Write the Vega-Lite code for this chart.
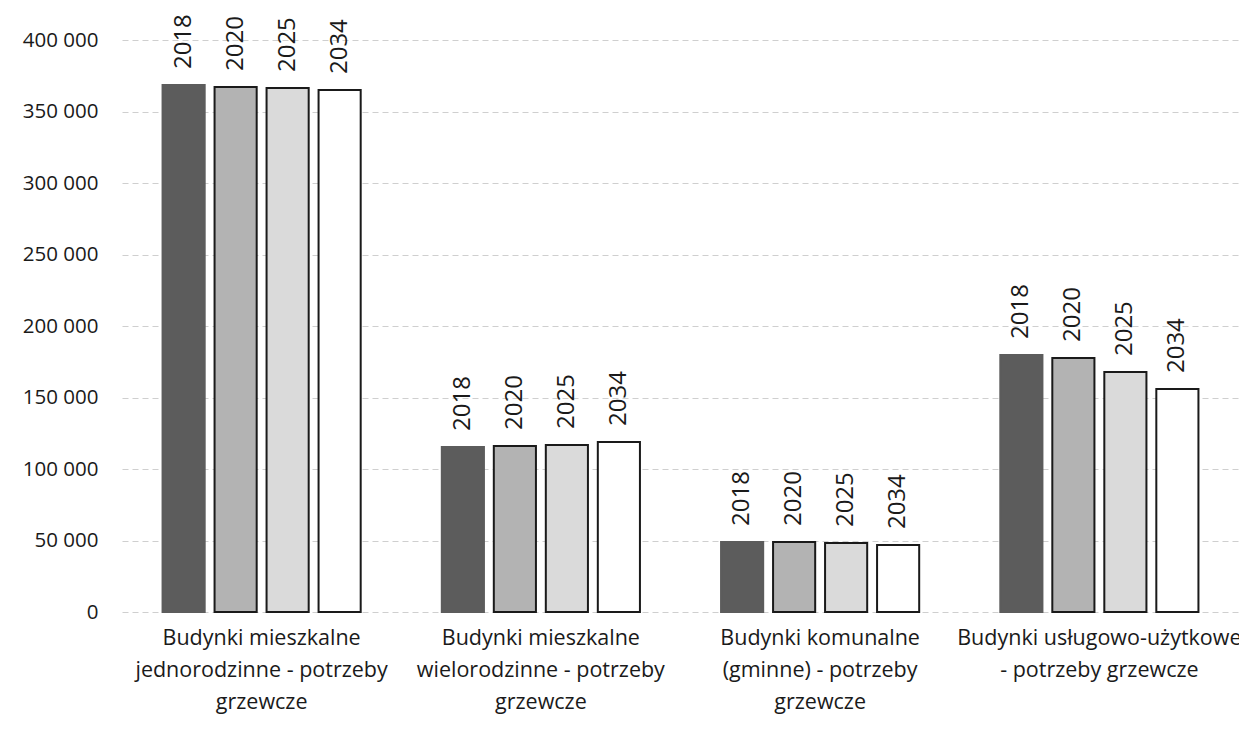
{
  "$schema": "https://vega.github.io/schema/vega-lite/v6.json",
  "width": 1117,
  "height": 572,
  "autosize": {"type": "none"},
  "padding": {"left": 122, "top": 40, "right": 0, "bottom": 127},
  "background": "white",
  "config": {
    "view": {"stroke": null},
    "font": "Open Sans"
  },
  "data": {
    "values": [
      {"category": "Budynki mieszkalne|jednorodzinne - potrzeby|grzewcze", "year": "2018", "value": 368500},
      {"category": "Budynki mieszkalne|jednorodzinne - potrzeby|grzewcze", "year": "2020", "value": 367200},
      {"category": "Budynki mieszkalne|jednorodzinne - potrzeby|grzewcze", "year": "2025", "value": 366400},
      {"category": "Budynki mieszkalne|jednorodzinne - potrzeby|grzewcze", "year": "2034", "value": 365000},
      {"category": "Budynki mieszkalne|wielorodzinne - potrzeby|grzewcze", "year": "2018", "value": 115400},
      {"category": "Budynki mieszkalne|wielorodzinne - potrzeby|grzewcze", "year": "2020", "value": 116100},
      {"category": "Budynki mieszkalne|wielorodzinne - potrzeby|grzewcze", "year": "2025", "value": 116800},
      {"category": "Budynki mieszkalne|wielorodzinne - potrzeby|grzewcze", "year": "2034", "value": 118900},
      {"category": "Budynki komunalne|(gminne) - potrzeby|grzewcze", "year": "2018", "value": 49000},
      {"category": "Budynki komunalne|(gminne) - potrzeby|grzewcze", "year": "2020", "value": 49000},
      {"category": "Budynki komunalne|(gminne) - potrzeby|grzewcze", "year": "2025", "value": 48200},
      {"category": "Budynki komunalne|(gminne) - potrzeby|grzewcze", "year": "2034", "value": 46800},
      {"category": "Budynki usługowo-użytkowe|- potrzeby grzewcze", "year": "2018", "value": 179700},
      {"category": "Budynki usługowo-użytkowe|- potrzeby grzewcze", "year": "2020", "value": 177600},
      {"category": "Budynki usługowo-użytkowe|- potrzeby grzewcze", "year": "2025", "value": 167800},
      {"category": "Budynki usługowo-użytkowe|- potrzeby grzewcze", "year": "2034", "value": 155900}
    ]
  },
  "encoding": {
    "x": {
      "field": "category",
      "type": "nominal",
      "sort": null,
      "scale": {"paddingInner": 0, "paddingOuter": 0},
      "axis": {
        "title": null,
        "labelAngle": 0,
        "labelExpr": "split(datum.label, '|')",
        "labelFontSize": 21.5,
        "labelLineHeight": 32,
        "labelColor": "#1a1a1a",
        "labelBaseline": "top",
        "labelPadding": 15,
        "ticks": false,
        "domain": false,
        "labelLimit": 400
      }
    },
    "xOffset": {
      "field": "year",
      "type": "nominal",
      "scale": {"paddingInner": 0.19, "paddingOuter": 0.78}
    },
    "y": {
      "field": "value",
      "type": "quantitative",
      "scale": {"domain": [0, 400000], "nice": false},
      "axis": {
        "title": null,
        "values": [0, 50000, 100000, 150000, 200000, 250000, 300000, 350000, 400000],
        "labelExpr": "replace(format(datum.value, ',d'), /,/g, ' ')",
        "labelFontSize": 20.5,
        "labelColor": "#1a1a1a",
        "labelPadding": 24,
        "ticks": false,
        "domain": false,
        "grid": true,
        "gridColor": "#cfcfcf",
        "gridDash": [6, 4],
        "gridWidth": 1
      }
    }
  },
  "layer": [
    {
      "mark": {"type": "bar", "strokeWidth": 2},
      "encoding": {
        "fill": {
          "field": "year",
          "type": "nominal",
          "scale": {"domain": ["2018", "2020", "2025", "2034"], "range": ["#5c5c5c", "#b3b3b3", "#dadada", "#ffffff"]},
          "legend": null
        },
        "stroke": {
          "field": "year",
          "type": "nominal",
          "scale": {"domain": ["2018", "2020", "2025", "2034"], "range": ["#5c5c5c", "#1a1a1a", "#1a1a1a", "#1a1a1a"]},
          "legend": null
        }
      }
    },
    {
      "mark": {"type": "text", "angle": 270, "align": "left", "baseline": "middle", "dx": 16, "fontSize": 24, "color": "#1a1a1a"},
      "encoding": {
        "text": {"field": "year", "type": "nominal"}
      }
    }
  ]
}
